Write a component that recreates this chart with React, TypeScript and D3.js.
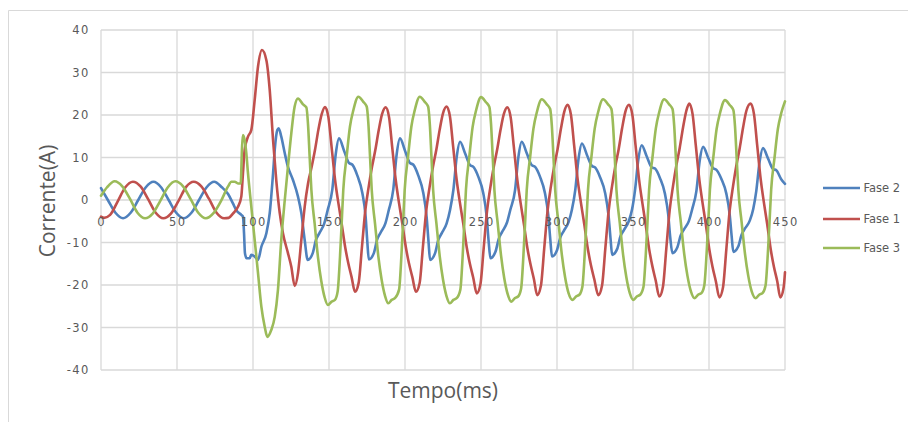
import React from "react";
import * as d3 from "d3";

type Pt = [number, number];

// Tempo (ms), Corrente (A)
const fase1: Pt[] = [
  [0,-3.9],[2,-4.2],[6,-3.5],[11,-0.3],[16,3.0],[21,4.3],[26,3.2],[31,0.2],[36,-3.0],[41,-4.3],[46,-3.2],[51,-0.2],[56,3.1],[61,4.3],[66,3.2],[71,0.3],[76,-3.0],[81,-4.3],[84,-4.2],[86.8,-3.2],[90.1,-1.6],[92.3,0.8],
  [93.4,6.3],[94.5,11.8],[96.7,14.9],[98.9,16.5],[101.1,23.5],[103.3,31.4],[105.9,35.3],[108.8,32.9],[111,25.9],[113.2,14.1],[115.3,4.7],[117.6,-3.1],[119.7,-7.8],[123,-12.5],[125.2,-15.7],[127.4,-20.2],[129.6,-17.2],[131.8,-9.4],[134,-1.6],[136.2,3.9],
  [138.6,7.8],[140.8,11.8],[143,16.5],[145.2,20.2],[147.4,21.9],
  [149.6,19.5],[151.7,12.5],[154,4.7],[156.2,-0.8],[158.3,-5.5],[160.6,-11],[162.7,-14.9],[164.9,-18.2],[167.1,-21.6],
  [169.5,-19.5],[171.7,-11],[173.9,-2.4],[176.1,3.1],[178.3,7.8],[180.5,11.8],[182.7,16.4],[184.9,20.2],[187.3,21.8],
  [189.5,19.5],[191.6,12.4],[193.9,4.7],[196.1,-0.8],[198.2,-5.5],[200.5,-11],[202.6,-14.9],[204.8,-18.1],[207.2,-21.6],
  [209.6,-19.6],[211.8,-11],[214,-2.4],[216.2,3.1],[218.4,7.8],[220.6,11.8],[222.8,16.5],[225,20.4],[227.4,22.0],
  [229.6,19.6],[231.7,12.5],[234,4.7],[236.2,-0.8],[238.3,-5.5],[240.6,-11.1],[242.7,-15],[244.9,-18.3],[247.2,-22.0],
  [249.6,-19.9],[251.8,-11.2],[254,-2.5],[256.2,3.1],[258.4,7.8],[260.6,11.8],[262.8,16.4],[265,20.2],[267.3,21.8],
  [269.5,19.5],[271.6,12.5],[273.9,4.7],[276.1,-0.8],[278.2,-5.6],[280.5,-11.3],[282.6,-15.2],[284.8,-18.6],[287.0,-22.4],
  [289.4,-20.2],[291.6,-11.4],[293.8,-2.5],[296,3.2],[298.2,8.0],[300.4,12.0],[302.6,16.8],[304.8,20.8],[307.0,22.4],
  [309.2,20],[311.3,12.8],[313.6,4.8],[315.8,-0.8],[317.9,-5.6],[320.2,-11.3],[322.3,-15.3],[324.5,-18.6],[327.2,-22.4],
  [329.6,-20.2],[331.8,-11.4],[334,-2.5],[336.2,3.2],[338.4,8.0],[340.6,12.0],[342.8,16.8],[345,20.8],[347.4,22.4],
  [349.6,20],[351.7,12.8],[354,4.8],[356.2,-0.8],[358.3,-5.7],[360.6,-11.5],[362.7,-15.5],[364.9,-18.9],[367.3,-22.7],
  [369.7,-20.4],[371.9,-11.5],[374.1,-2.5],[376.3,3.2],[378.5,8.1],[380.7,12.2],[382.9,17.0],[385.1,21.0],[387.0,22.7],
  [389.2,20.2],[391.3,12.9],[393.6,4.9],[395.8,-0.8],[397.9,-5.7],[400.2,-11.6],[402.3,-15.7],[404.5,-19.1],[406.8,-22.9],
  [409.2,-20.6],[411.4,-11.6],[413.6,-2.5],[415.8,3.2],[418,8.1],[420.2,12.2],[422.4,17.0],[424.6,21.0],[427.4,22.7],
  [429.6,20.2],[431.7,12.9],[434,4.9],[436.2,-0.8],[438.3,-5.7],[440.6,-11.6],[442.7,-15.7],[444.9,-19.1],[446.9,-22.9],
  [449.1,-20.6],[450,-17],
];

const fase2: Pt[] = [
  [0,2.8],[4.5,0],[9.5,-3.0],[14.5,-4.3],[19.5,-3.0],[24.5,0],[29.5,3.0],[34.5,4.3],[39.5,3.0],[44.5,0],[49.5,-3.0],[54.5,-4.3],[59.5,-3.0],[64.5,0],[69.5,3.0],[74.5,4.3],[79.5,3.0],[83.6,1.4],[86.8,-0.8],[89,-2.4],[92.3,-3.5],[93.4,-3.9],
  [94.1,-7.8],[94.7,-12.5],[95.8,-13.7],[97.8,-13.7],[98.9,-12.9],[101.1,-13.3],[103.3,-14.1],[105.5,-11],[108.8,-7.8],[111,-3.1],[113.2,6.3],[114.3,11.8],[116,16.5],[116.9,16.9],[118.6,14.9],[120.9,11],[123,7.8],[126.3,4.7],[129.6,0.8],[131.8,-3.1],[134,-9.4],[136,-14.1],
  [139.3,-12.5],[141.4,-9.4],[143.7,-7.8],[146.9,-5.5],[149.1,-2.4],[152.2,2.5],[154.4,10.7],[156.6,14.5],
  [159.9,11.6],[163.2,8.7],[165.4,8.3],[168.6,5.8],[171.9,1.7],[174.1,-3.9],[175.2,-9.8],[176.2,-14.0],
  [179.5,-12.5],[181.6,-9.4],[183.9,-7.7],[187.1,-5.5],[189.3,-2.4],[192.3,2.5],[194.5,10.7],[196.7,14.5],
  [200,11.6],[203.3,8.7],[205.5,8.3],[208.7,5.8],[212,1.7],[214.2,-3.9],[215.5,-9.9],[216.5,-14.1],
  [219.8,-12.5],[221.9,-9.4],[224.2,-7.8],[227.4,-5.5],[229.6,-2.4],[231.8,2.3],[234,10.1],[236.2,13.7],
  [239.5,11],[242.8,8.2],[245,7.8],[248.2,5.5],[251.5,1.6],[253.7,-3.8],[255,-9.6],[256.2,-13.7],
  [259.5,-12.2],[261.6,-9.2],[263.9,-7.5],[267.1,-5.3],[269.3,-2.3],[272.4,2.3],[274.6,10.1],[276.8,13.7],
  [280.1,11],[283.4,8.2],[285.6,7.8],[288.8,5.5],[292.1,1.6],[294.3,-3.7],[295.6,-9.3],[296.7,-13.3],
  [300,-11.8],[302.1,-8.9],[304.4,-7.3],[307.6,-5.2],[309.8,-2.3],[312,2.3],[314.2,9.8],[316.4,13.3],
  [319.7,10.6],[323,8.0],[325.2,7.6],[328.4,5.3],[331.7,1.6],[333.9,-3.6],[335.2,-9.0],[336.3,-12.9],
  [339.6,-11.5],[341.7,-8.6],[344,-7.1],[347.2,-5.0],[349.4,-2.2],[351.3,2.2],[353.5,9.5],[355.7,12.9],
  [359,10.3],[362.3,7.7],[364.5,7.4],[367.7,5.2],[371,1.5],[373.2,-3.5],[374.5,-8.8],[375.9,-12.5],
  [379.2,-11.1],[381.3,-8.4],[383.6,-6.9],[386.8,-4.9],[389,-2.1],[391.7,2.1],[393.9,9.3],[396.1,12.5],
  [399.4,10],[402.7,7.5],[404.9,7.1],[408.1,5.0],[411.4,1.5],[413.6,-3.4],[414.9,-8.5],[416.0,-12.2],
  [419.3,-10.9],[421.4,-8.2],[423.7,-6.7],[426.9,-4.8],[429.1,-2.1],[431.1,2.1],[433.3,9.0],[435.5,12.2],
  [438.8,9.8],[442.1,7.3],[444.3,7.0],[447.5,4.9],[450,3.8],
];

const fase3: Pt[] = [
  [0,1.0],[4,3.0],[9,4.4],[14,3.2],[19,0.3],[24,-3.0],[29,-4.3],[34,-3.2],[39,-0.2],[44,3.0],[49,4.4],[54,3.2],[59,0.2],[64,-3.0],[69,-4.3],[74,-3.1],[79,-0.2],[83.6,3.2],[85.8,4.3],[88,4.3],[90.1,3.9],[91.9,3.9],
  [92.8,12.5],[93.4,15.3],[94.5,14.1],[95.6,11],[96.7,6.3],[98.9,-1.6],[101.1,-9.4],[103.3,-17.2],[105.5,-25.1],[107.7,-29.8],[109.4,-32.2],[112,-30.6],[114.3,-27.5],[116.4,-21.2],[118.6,-9.4],[120.9,0],[123,7.8],[125.2,15.7],[127.4,22],[129.6,23.9],
  [132.9,22.5],[135.1,21.8],[136.2,17.8],[137.3,10.0],[138.4,2.4],[140.6,-5.7],[142.8,-13.6],[144.9,-19.0],[147.2,-23.0],[149.3,-24.7],
  [151.7,-23.9],[153.9,-23.5],[155.7,-21.5],[157.2,-13.6],[158.3,-5.7],[159.4,2.4],[161.6,10.2],[163.8,17.3],[166,21.1],[169.3,24.3],
  [172.6,23.1],[174.8,22.0],[175.9,18.0],[177,10.2],[178.1,2.4],[180.3,-5.6],[182.5,-13.4],[184.6,-18.7],[186.9,-22.6],[189.0,-24.3],
  [191.2,-23.5],[193.4,-23.1],[196.1,-21.1],[197.6,-13.4],[198.7,-5.6],[199.8,2.4],[202,10.2],[204.2,17.3],[206.4,21.1],[209.7,24.3],
  [213,23.1],[215.2,22.0],[216.3,18.0],[217.4,10.2],[218.5,2.4],[220.7,-5.6],[222.9,-13.4],[225,-18.7],[227.3,-22.6],[229.6,-24.3],
  [231.8,-23.5],[234,-23.1],[236.4,-21.1],[237.9,-13.4],[239,-5.6],[240.1,2.4],[242.3,10.2],[244.5,17.2],[246.7,21.0],[250.0,24.2],
  [253.3,23.0],[255.5,21.9],[256.6,17.9],[257.7,10.2],[258.8,2.4],[261,-5.5],[263.2,-13.1],[265.3,-18.4],[267.6,-22.2],[270.0,-23.9],
  [272.2,-23.1],[274.4,-22.7],[276.4,-20.8],[277.9,-13.1],[279,-5.5],[280.1,2.4],[282.3,10.0],[284.5,16.8],[286.7,20.6],[290.0,23.7],
  [293.3,22.5],[295.5,21.4],[296.6,17.5],[297.7,10.0],[298.8,2.4],[301,-5.4],[303.2,-12.9],[305.3,-18.1],[307.6,-21.9],[310.3,-23.5],
  [312.5,-22.7],[314.7,-22.3],[316.7,-20.4],[318.2,-12.9],[319.3,-5.4],[320.4,2.4],[322.6,10.0],[324.8,16.8],[327,20.6],[330.3,23.7],
  [333.6,22.5],[335.8,21.4],[336.9,17.5],[338,10.0],[339.1,2.4],[341.3,-5.4],[343.5,-12.9],[345.6,-18.1],[347.9,-21.9],[350.3,-23.5],
  [352.5,-22.7],[354.7,-22.3],[356.9,-20.4],[358.4,-12.9],[359.5,-5.4],[360.6,2.4],[362.8,10.0],[365,16.8],[367.2,20.6],[370.5,23.7],
  [373.8,22.5],[376,21.4],[377.1,17.5],[378.2,10.0],[379.3,2.4],[381.5,-5.3],[383.7,-12.7],[385.8,-17.8],[388.1,-21.5],[390.6,-23.1],
  [392.8,-22.3],[395,-21.9],[396.9,-20.1],[398.4,-12.7],[399.5,-5.3],[400.6,2.4],[402.8,9.9],[405,16.7],[407.2,20.4],[410.5,23.5],
  [413.8,22.3],[416,21.2],[417.1,17.4],[418.2,9.9],[419.3,2.4],[421.5,-5.3],[423.7,-12.7],[425.8,-17.8],[428.1,-21.5],[430.8,-23.1],
  [433,-22.3],[435.2,-21.9],[437.2,-20.1],[438.7,-12.7],[439.8,-5.3],[440.9,2.4],[443.1,9.9],[445.3,16.7],[447.5,20.4],[450,23.2],
];

const xTicks = [0, 50, 100, 150, 200, 250, 300, 350, 400, 450];
const yTicks = [-40, -30, -20, -10, 0, 10, 20, 30, 40];
const seriesNames = ["Fase 2", "Fase 1", "Fase 3"];
const seriesColors = ["#4F81BD", "#C0504D", "#9BBB59"];
const seriesData = [fase2, fase1, fase3];
const xTitle = "Tempo(ms)";
const yTitle = "Corrente(A)";

export default function App() {
  const W = 908, H = 422;
  const x = d3.scaleLinear().domain([0, 450]).range([101, 785]);
  const y = d3.scaleLinear().domain([-40, 40]).range([370, 30]);
  const line = d3
    .line<Pt>()
    .x((d) => x(d[0]))
    .y((d) => y(d[1]))
    .curve(d3.curveMonotoneX);

  const tickFont = { fontFamily: "DejaVu Sans", fontSize: 11.5, letterSpacing: 1.3, fill: "#595959" } as const;
  const legendY = [188, 219, 248];

  return (
    <svg
      width={W}
      height={H}
      viewBox={`0 0 ${W} ${H}`}
      style={{ position: "fixed", left: 0, top: 0, background: "#fff" }}
    >
      <rect x={0} y={0} width={W} height={H} fill="#fff" />
      <line x1={8.5} y1={10.5} x2={W} y2={10.5} stroke="#d9d9d9" strokeWidth={1} />
      <line x1={8.5} y1={10.5} x2={8.5} y2={H} stroke="#d9d9d9" strokeWidth={1} />

      {/* gridlines */}
      {yTicks.map((t) => (
        <line key={"gy" + t} x1={x(0)} x2={x(450)} y1={y(t)} y2={y(t)} stroke="#d9d9d9" strokeWidth={1.3} />
      ))}
      {xTicks.map((t) => (
        <line key={"gx" + t} x1={x(t)} x2={x(t)} y1={y(40)} y2={y(-40)} stroke="#d9d9d9" strokeWidth={1.3} />
      ))}

      {/* y tick labels */}
      {yTicks.map((t) => (
        <text key={"ly" + t} x={89.5} y={y(t)} dy="0.36em" textAnchor="end" {...tickFont}>
          {t}
        </text>
      ))}

      {/* series */}
      {seriesData.map((s, i) => (
        <path
          key={seriesNames[i]}
          d={line(s) || ""}
          fill="none"
          stroke={seriesColors[i]}
          strokeWidth={2.6}
          strokeLinejoin="round"
          strokeLinecap="round"
        />
      ))}

      {/* x tick labels (at y=0 axis) */}
      {xTicks.map((t) => (
        <text key={"lx" + t} x={x(t) + 0.65} y={y(0) + 25.5} textAnchor="middle" {...tickFont}>
          {t}
        </text>
      ))}

      {/* axis titles */}
      <text x={443} y={398} textAnchor="middle" fontFamily="Open Sans" fontSize={21} fill="#595959">
        {xTitle}
      </text>
      <text
        transform={`translate(55,201) rotate(-90)`}
        textAnchor="middle"
        fontFamily="Open Sans"
        fontSize={21}
        fill="#595959"
      >
        {yTitle}
      </text>

      {/* legend */}
      {seriesNames.map((n, i) => (
        <g key={"lg" + n}>
          <line x1={823} x2={860} y1={legendY[i]} y2={legendY[i]} stroke={seriesColors[i]} strokeWidth={2.6} />
          <text x={863.5} y={legendY[i]} dy="0.36em" fontFamily="DejaVu Sans" fontSize={11.5} fill="#595959">
            {n}
          </text>
        </g>
      ))}
    </svg>
  );
}
